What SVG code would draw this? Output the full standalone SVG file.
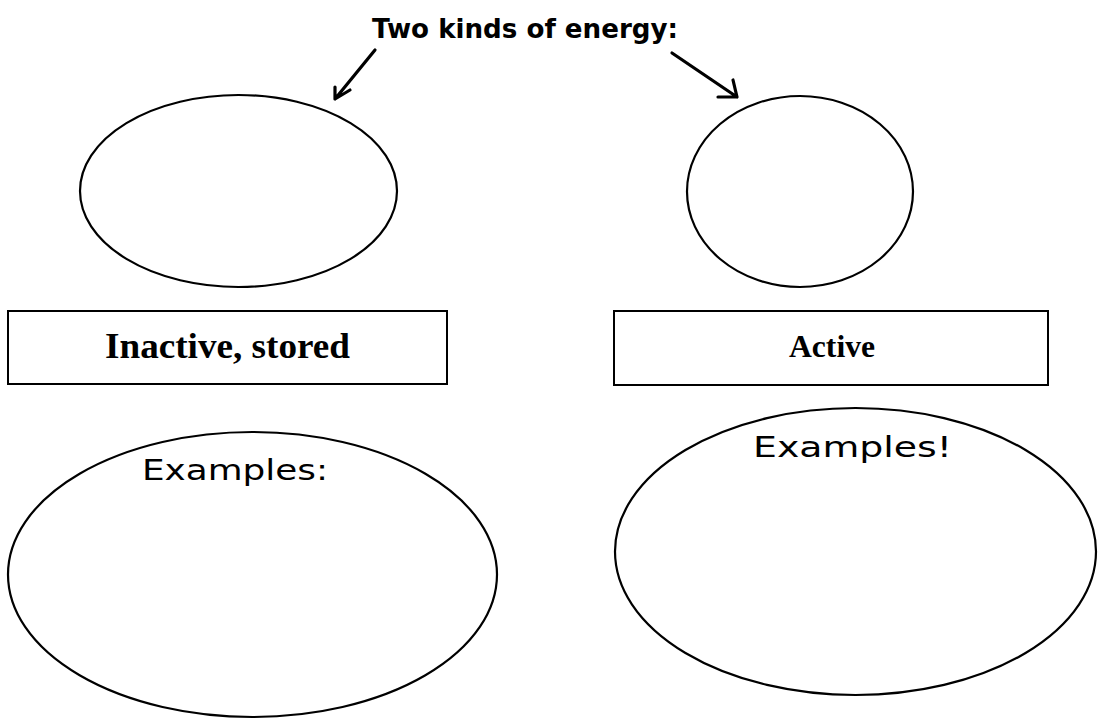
<svg xmlns="http://www.w3.org/2000/svg" width="1103" height="719" viewBox="0 0 1103 719">
<style>
.shape{fill:none;stroke:#000;stroke-width:2.2}
.box{fill:#fff;stroke:#000;stroke-width:2}
.lbl{font-family:"Liberation Serif","Times New Roman",serif;font-weight:bold;fill:#000;text-anchor:middle}
.hand{font-family:"DejaVu Sans","Liberation Sans",sans-serif;font-weight:normal;fill:#000;font-size:29px}
.title{font-family:"DejaVu Sans","Liberation Sans",sans-serif;font-weight:bold;fill:#000;font-size:26px}
.arrow{fill:none;stroke:#000;stroke-width:3.2;stroke-linecap:round;stroke-linejoin:round}
</style>
<rect x="0" y="0" width="1103" height="719" fill="#fff"/>
<g id="title">
<text class="title" x="372" y="38" textLength="306" lengthAdjust="spacingAndGlyphs">Two kinds of energy:</text>
</g>
<g id="connectors">
<path class="arrow" d="M375,50 L335,99 M335,87 L335,99 L350,90"/>
<path class="arrow" d="M672,53 L737,97 M733,80 L737,97 L718,97"/>
</g>
<g id="inactive-circle">
<ellipse class="shape" cx="238.5" cy="191" rx="158.5" ry="96"/>
</g>
<g id="active-circle">
<ellipse class="shape" cx="800" cy="191.5" rx="113" ry="95.5"/>
</g>
<g id="inactive-box">
<rect class="box" x="8" y="311" width="439" height="73"/>
<text class="lbl" x="227.5" y="358" font-size="35" textLength="245" lengthAdjust="spacingAndGlyphs">Inactive, stored</text>
</g>
<g id="active-box">
<rect class="box" x="614" y="311" width="434" height="74"/>
<text class="lbl" x="832" y="357" font-size="32" textLength="86" lengthAdjust="spacingAndGlyphs">Active</text>
</g>
<g id="inactive-examples">
<ellipse class="shape" cx="252.5" cy="574.5" rx="244.5" ry="142.5"/>
<text class="hand" x="142" y="480" textLength="186" lengthAdjust="spacingAndGlyphs">Examples:</text>
</g>
<g id="active-examples">
<ellipse class="shape" cx="855.5" cy="551.5" rx="240.5" ry="143.5"/>
<text class="hand" x="753" y="457" textLength="199" lengthAdjust="spacingAndGlyphs">Examples!</text>
</g>
</svg>
